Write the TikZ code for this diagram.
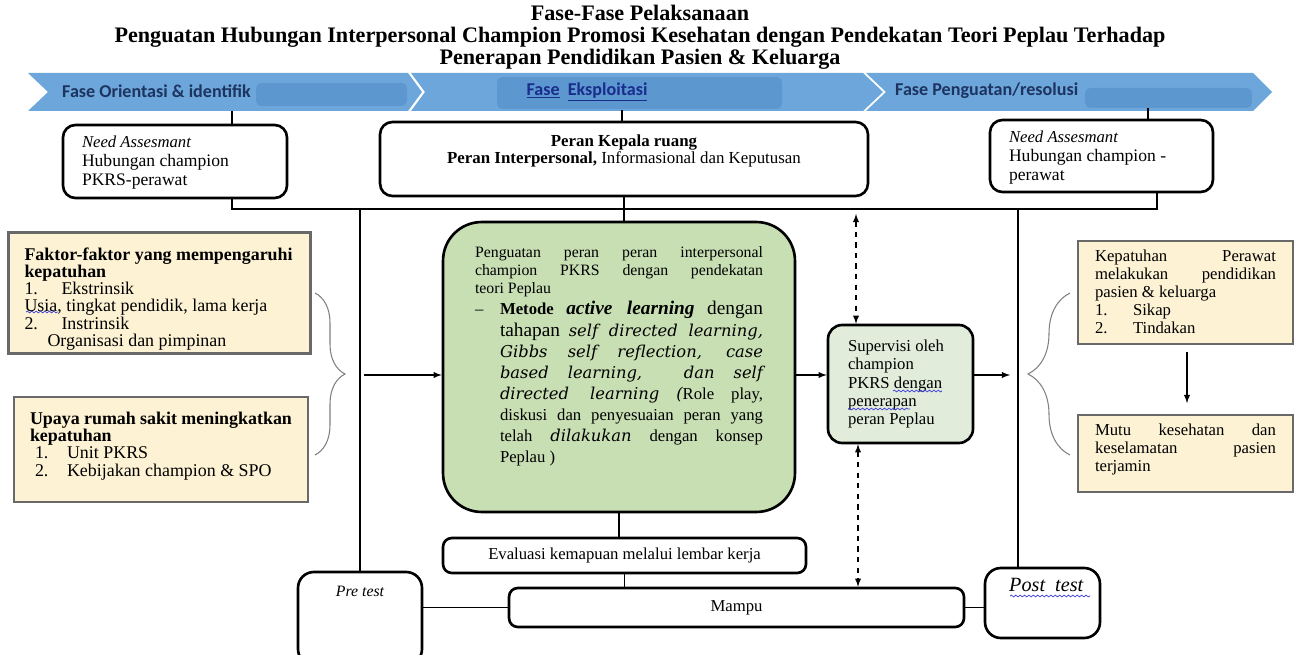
\documentclass[tikz,border=0pt]{standalone}
\usepackage{fontspec}
\setmainfont{Liberation Serif}
\newfontfamily\bandfont{Carlito}
\newfontfamily\wideserif{DejaVu Serif}
\usetikzlibrary{decorations.pathreplacing, decorations.pathmorphing}

\definecolor{bandblue}{RGB}{108,166,219}
\definecolor{bandshade}{RGB}{93,151,208}
\definecolor{bandtext}{RGB}{30,52,96}
\definecolor{linkblue}{RGB}{25,45,140}
\definecolor{beige}{RGB}{253,242,212}
\definecolor{beigeline}{RGB}{105,105,105}
\definecolor{sage}{RGB}{200,223,180}
\definecolor{palesage}{RGB}{226,236,218}
\definecolor{spellblue}{RGB}{60,60,220}

\newcommand{\boxtext}[3]{\parbox[c][#2][t]{#1}{#3}}
\newcommand{\fillline}[1]{\makebox[\linewidth][s]{#1}}
\newcommand{\stepline}[1]{\hspace*{0.5cm}\makebox[\dimexpr\linewidth-0.5cm\relax][s]{#1}}
\newcommand{\learnrm}{\fontsize{11}{12}\selectfont}
\newcommand{\learnit}{\wideserif\itshape\fontsize{9.3}{12}\selectfont}

\begin{document}
\begin{tikzpicture}[> = latex, x = 0.02cm, y = -0.02cm,
	box/.style = {draw, line width = 1.5pt, rounded corners = 7pt, fill = white, inner sep = 0pt},
	notebox/.style = {draw = beigeline, line width = 1.6pt, fill = beige, inner sep = 0pt},
	link/.style = {line width = 0.6pt},
	bus/.style = {line width = 0.9pt},
	dasharrow/.style = {<->, dashed, line width = 0.6pt},
	curly/.style = {gray, line width = 0.6pt, decorate, decoration = {brace, amplitude = #1}},
	spell/.style = {spellblue, line width = 0.4pt, decorate, decoration = {snake, amplitude = 0.5pt, segment length = 2.5pt}}]

	\useasboundingbox (0, 0) rectangle (1294, 655);

	% Title

	\node [align = center, font = \bfseries\fontsize{12.6}{12.6}\selectfont] (title) at (640, 37)
		{Fase-Fase Pelaksanaan\\
		Penguatan Hubungan Interpersonal Champion Promosi Kesehatan dengan Pendekatan Teori Peplau Terhadap\\
		Penerapan Pendidikan Pasien \& Keluarga};

	% Phase band

	\fill [bandblue] (28, 73) -- (408, 73) -- (422, 92) -- (408, 111) -- (28, 111) -- (48, 92) -- cycle;
	\fill [bandblue] (411, 73) -- (863, 73) -- (883, 92) -- (863, 111) -- (411, 111) -- (425, 92) -- cycle;
	\fill [bandblue] (866, 73) -- (1253, 73) -- (1272, 92) -- (1253, 111) -- (866, 111) -- (886, 92) -- cycle;

	\fill [bandshade, rounded corners = 3pt] (256, 83) rectangle (407, 106);
	\fill [bandshade, rounded corners = 3pt] (497, 77) rectangle (782, 109);
	\fill [bandshade, rounded corners = 3pt] (1085, 88) rectangle (1252, 108);

	\node [anchor = west, text = bandtext, font = \bandfont\bfseries\fontsize{10.3}{11}\selectfont] (orientasi) at (56, 91) {Fase Orientasi \& identifik};
	\node [text = linkblue, font = \bandfont\bfseries\fontsize{10.3}{11}\selectfont] (eksploitasi) at (587, 92) {\underline{Fase}\ \ \underline{Eksploitasi}};
	\node [anchor = west, text = bandtext, font = \bandfont\bfseries\fontsize{10.3}{11}\selectfont] (resolusi) at (889, 91) {Fase Penguatan/resolusi};

	% Top row

	\node [box, inner xsep = 0.38cm, inner ysep = 0.22cm, font = \fontsize{10}{10.8}\selectfont] (needleft) at (175, 161.5)
		{\boxtext{3.72cm}{1.02cm}{\raggedright {\itshape\fontsize{9.5}{10.8}\selectfont Need Assesmant}\\ Hubungan champion\\ PKRS-perawat}};

	\node [box, inner xsep = 0.2cm, inner ysep = 0.26cm, font = \fontsize{9.6}{9.7}\selectfont] (kepala) at (624, 159)
		{\boxtext{9.36cm}{0.96cm}{\centering \textbf{Peran Kepala ruang}\\ \textbf{Peran Interpersonal,} Informasional dan Keputusan}};

	\node [box, inner xsep = 0.38cm, inner ysep = 0.22cm, font = \fontsize{10}{10.8}\selectfont] (needright) at (1101.5, 156)
		{\boxtext{3.7cm}{1.0cm}{\raggedright {\itshape\fontsize{9.5}{10.8}\selectfont Need Assesmant}\\ Hubungan champion -\\ perawat}};

	% Left notes

	\node [notebox, inner xsep = 0.32cm, inner ysep = 0.3cm, font = \fontsize{10.2}{9.8}\selectfont] (faktor) at (159.5, 293)
		{\boxtext{5.4cm}{1.82cm}{\raggedright \textbf{Faktor-faktor yang mempengaruhi}\\ \textbf{kepatuhan}\\
		\makebox[0.74cm][l]{1.}Ekstrinsik\\ Usia, tingkat pendidik, lama kerja\\
		\makebox[0.74cm][l]{2.}Instrinsik\\ \hspace*{0.46cm}Organisasi dan pimpinan}};

	\node [notebox, inner xsep = 0.32cm, inner ysep = 0.3cm, font = \fontsize{10.2}{9.8}\selectfont] (upaya) at (161, 449.5)
		{\boxtext{5.24cm}{1.5cm}{\raggedright \textbf{Upaya rumah sakit meningkatkan}\\ \textbf{kepatuhan}\\
		\hspace*{0.1cm}\makebox[0.64cm][l]{1.}Unit PKRS\\ \hspace*{0.1cm}\makebox[0.64cm][l]{2.}Kebijakan champion \& SPO}};

	% Centre

	\node [box, fill = sage, rounded corners = 22pt, inner xsep = 0.64cm, inner ysep = 0.5cm] (penguatan) at (619, 367)
		{\boxtext{5.76cm}{4.8cm}{\fontsize{9}{10.2}\selectfont
		\fillline{Penguatan peran peran interpersonal}\\
		\fillline{champion PKRS dengan pendekatan}\\
		teori Peplau\par
		\fontsize{9.5}{12}\selectfont
		\makebox[0.5cm][l]{--}\makebox[\dimexpr\linewidth-0.5cm\relax][s]{{\bfseries Metode} {\learnrm\bfseries\itshape active learning} {\learnrm dengan}}\\
		\stepline{{\learnrm tahapan} {\learnit self directed learning,}}\\
		\stepline{\learnit Gibbs self reflection, case}\\
		\stepline{\learnit based learning, \ dan self}\\
		\stepline{{\learnit directed learning} {\learnit(}Role play,}\\
		\stepline{diskusi dan penyesuaian peran yang}\\
		\stepline{telah {\learnit dilakukan} dengan konsep}\\
		\hspace*{0.5cm}Peplau )}};

	\node [box, fill = palesage, rounded corners = 8pt, inner xsep = 0.4cm, inner ysep = 0.3cm, font = \fontsize{9.5}{10.4}\selectfont] (supervisi) at (900.5, 384)
		{\boxtext{2.1cm}{1.76cm}{\raggedright Supervisi oleh\\ champion\\ PKRS dengan\\ penerapan\\ peran Peplau}};

	% Right notes

	\node [notebox, inner xsep = 0.34cm, inner ysep = 0.18cm, font = \fontsize{9.5}{10.3}\selectfont] (kepatuhan) at (1185.5, 292.5)
		{\boxtext{3.62cm}{1.7cm}{Kepatuhan \hfill Perawat\\ melakukan \hfill pendidikan\\ pasien \& keluarga\\
		\makebox[0.76cm][l]{1.}Sikap\\ \makebox[0.76cm][l]{2.}Tindakan}};

	\node [notebox, inner xsep = 0.34cm, inner ysep = 0.18cm, font = \fontsize{9.5}{10.3}\selectfont] (mutu) at (1185.5, 453.5)
		{\boxtext{3.62cm}{1.18cm}{Mutu \hfill kesehatan \hfill dan\\ keselamatan \hfill pasien\\ terjamin}};

	% Bottom row

	\node [box, rounded corners = 5pt, minimum width = 7.26cm, minimum height = 0.7cm, font = \fontsize{9.5}{10}\selectfont] (evaluasi) at (624.5, 555.5) {Evaluasi kemapuan melalui lembar kerja};
	\node [box, rounded corners = 5pt, minimum width = 9.1cm, minimum height = 0.78cm, font = \fontsize{9.5}{10}\selectfont] (mampu) at (736.5, 607.5) {Mampu};

	\node [box, rounded corners = 9pt, inner xsep = 0.1cm, inner ysep = 0.28cm] (pretest) at (360, 618.5)
		{\boxtext{2.28cm}{1.3cm}{\centering\itshape\fontsize{9}{10}\selectfont Pre test}};
	\node [box, rounded corners = 9pt, inner xsep = 0.1cm, inner ysep = 0.2cm] (posttest) at (1042.5, 603)
		{\boxtext{2.1cm}{1.0cm}{\centering\itshape\fontsize{11.5}{12}\selectfont \hspace*{0.15cm}Post\ \ test}};

	% Spelling marks

	\draw [spell] (26, 312) -- (58, 312);
	\draw [spell] (893, 391) -- (942, 391);
	\draw [spell] (848, 409) -- (910, 409);
	\draw [spell] (1010, 596) -- (1090, 596);

	% Connectors

	\coordinate (bandleft) at (232, 111);
	\coordinate (bandmid) at (622, 110);
	\coordinate (bandright) at (1148, 108);
	\coordinate (busleft) at (232, 209);
	\coordinate (busright) at (1157, 209);
	\coordinate (postline) at (1018, 209);
	\coordinate (supertop) at (856, 214);
	\coordinate (bracetip) at (364, 375);
	\coordinate (rightend) at (1010, 375);

	\draw [bus] (bandleft) -- (bandleft |- needleft.north);
	\draw [bus] (bandmid) -- (bandmid |- kepala.north);
	\draw [bus] (bandright) -- (bandright |- needright.north);

	\draw [bus] (busleft |- needleft.south) -- (busleft) -- (busright) -- (busright |- needright.south);
	\draw [bus] (kepala.south) -- (kepala.south |- penguatan.north);
	\draw [link] (pretest.north |- busleft) -- (pretest.north);
	\draw [link] (postline) -- (postline |- posttest.north);

	\draw [link, ->] (bracetip) -- (bracetip -| penguatan.west);
	\draw [link, ->] (penguatan.east |- bracetip) -- (supervisi.west |- bracetip);
	\draw [link, ->] (supervisi.east |- rightend) -- (rightend);
	\draw [link, ->, shorten < = 4pt, shorten > = 6pt] (1187, 0 |- kepatuhan.south) -- (1187, 0 |- mutu.north);

	\draw [dasharrow] (supertop) -- (supertop |- supervisi.north);
	\draw [dasharrow] (858, 0 |- supervisi.south) -- (858, 0 |- mampu.north);

	\draw [bus] (penguatan.south) -- (penguatan.south |- evaluasi.north);
	\draw [bus] (evaluasi.south) -- (evaluasi.south |- mampu.north);
	\draw [bus] (pretest.east |- mampu.west) -- (mampu.west);
	\draw [bus] (mampu.east) -- (mampu.east -| posttest.west);

	% Braces

	\draw [curly = 0.6cm] (315, 293) -- (315, 455);
	\draw [curly = 0.84cm] (1070, 455) -- (1070, 293);

\end{tikzpicture}
\end{document}
